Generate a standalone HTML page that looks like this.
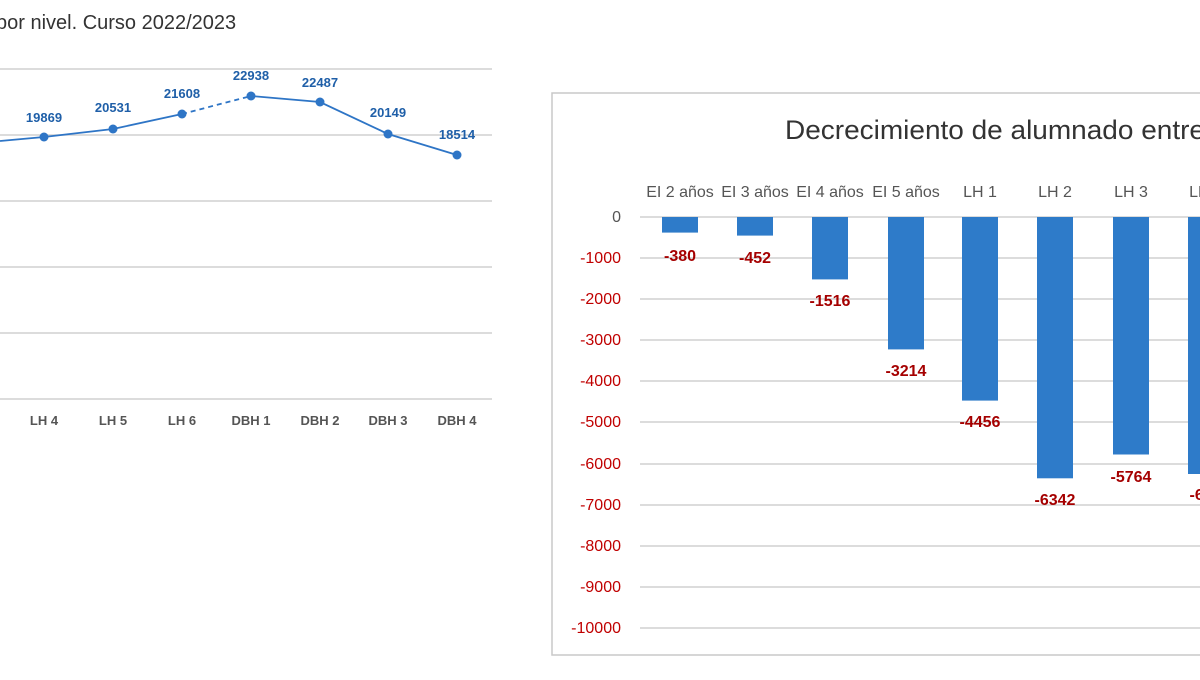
<!DOCTYPE html>
<html><head><meta charset="utf-8"><style>
body{margin:0;width:1200px;height:675px;overflow:hidden;background:#fff;font-family:"Liberation Sans",sans-serif}
</style></head><body>
<svg width="1200" height="675" xmlns="http://www.w3.org/2000/svg" font-family="Liberation Sans, sans-serif">
<text x="-4" y="29" font-size="20" fill="#333">por nivel. Curso 2022/2023</text>
<g stroke="#d0d0d0" stroke-width="1.5">
<line x1="0" y1="69" x2="492" y2="69"/><line x1="0" y1="135" x2="492" y2="135"/><line x1="0" y1="201" x2="492" y2="201"/><line x1="0" y1="267" x2="492" y2="267"/><line x1="0" y1="333" x2="492" y2="333"/><line x1="0" y1="399" x2="492" y2="399"/>
</g>
<polyline points="0,141 44,137 113,129 182,114" fill="none" stroke="#2e75c6" stroke-width="1.8"/>
<line x1="182" y1="114" x2="251" y2="96" stroke="#2e75c6" stroke-width="1.8" stroke-dasharray="5,4"/>
<polyline points="251,96 320,102 388,134 457,155" fill="none" stroke="#2e75c6" stroke-width="1.8"/>
<g fill="#2e75c6"><circle cx="44" cy="137" r="4.5"/><circle cx="113" cy="129" r="4.5"/><circle cx="182" cy="114" r="4.5"/><circle cx="251" cy="96" r="4.5"/><circle cx="320" cy="102" r="4.5"/><circle cx="388" cy="134" r="4.5"/><circle cx="457" cy="155" r="4.5"/></g>
<g font-size="13" font-weight="bold" fill="#1f5fa8" text-anchor="middle">
<text x="44" y="122">19869</text><text x="113" y="112">20531</text><text x="182" y="98">21608</text><text x="251" y="80">22938</text><text x="320" y="87">22487</text><text x="388" y="117">20149</text><text x="457" y="139">18514</text>
</g>
<g font-size="13" font-weight="bold" fill="#555" text-anchor="middle">
<text x="44" y="425">LH 4</text><text x="113" y="425">LH 5</text><text x="182" y="425">LH 6</text><text x="251" y="425">DBH 1</text><text x="320" y="425">DBH 2</text><text x="388" y="425">DBH 3</text><text x="457" y="425">DBH 4</text>
</g>
<rect x="552" y="93" width="660" height="562" fill="none" stroke="#c8c8c8" stroke-width="1.5"/>
<text x="785" y="139" font-size="27" fill="#333" textLength="420" lengthAdjust="spacingAndGlyphs">Decrecimiento de alumnado entre</text>
<g stroke="#d0d0d0" stroke-width="1.5">
<line x1="640" y1="217" x2="1200" y2="217"/><line x1="640" y1="258" x2="1200" y2="258"/><line x1="640" y1="299" x2="1200" y2="299"/><line x1="640" y1="340" x2="1200" y2="340"/><line x1="640" y1="381" x2="1200" y2="381"/><line x1="640" y1="422" x2="1200" y2="422"/><line x1="640" y1="464" x2="1200" y2="464"/><line x1="640" y1="505" x2="1200" y2="505"/><line x1="640" y1="546" x2="1200" y2="546"/><line x1="640" y1="587" x2="1200" y2="587"/><line x1="640" y1="628" x2="1200" y2="628"/>
</g>
<g font-size="16" text-anchor="end" fill="#c00000">
<text x="621" y="222" fill="#555">0</text><text x="621" y="263">-1000</text><text x="621" y="304">-2000</text><text x="621" y="345">-3000</text><text x="621" y="386">-4000</text><text x="621" y="427">-5000</text><text x="621" y="469">-6000</text><text x="621" y="510">-7000</text><text x="621" y="551">-8000</text><text x="621" y="592">-9000</text><text x="621" y="633">-10000</text>
</g>
<g font-size="16" fill="#555" text-anchor="middle">
<text x="680" y="197">EI 2 años</text><text x="755" y="197">EI 3 años</text><text x="830" y="197">EI 4 años</text><text x="906" y="197">EI 5 años</text><text x="980" y="197">LH 1</text><text x="1055" y="197">LH 2</text><text x="1131" y="197">LH 3</text><text x="1206" y="197">LH 4</text>
</g>
<g fill="#2e7bc9">
<rect x="662" y="217" width="36" height="15.6"/><rect x="737" y="217" width="36" height="18.6"/><rect x="812" y="217" width="36" height="62.4"/><rect x="888" y="217" width="36" height="132.4"/><rect x="962" y="217" width="36" height="183.6"/><rect x="1037" y="217" width="36" height="261.3"/><rect x="1113" y="217" width="36" height="237.5"/><rect x="1188" y="217" width="36" height="257"/>
</g>
<g font-size="16" font-weight="bold" fill="#a50000" text-anchor="middle">
<text x="680" y="261">-380</text><text x="755" y="263">-452</text><text x="830" y="306">-1516</text><text x="906" y="376">-3214</text><text x="980" y="427">-4456</text><text x="1055" y="505">-6342</text><text x="1131" y="482">-5764</text><text x="1210" y="500">-6250</text>
</g>
</svg>
</body></html>
